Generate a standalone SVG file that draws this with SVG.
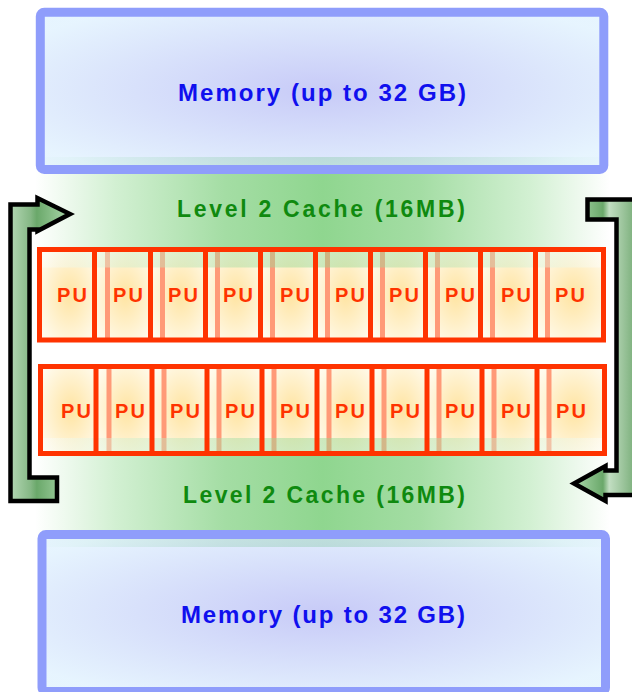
<svg xmlns="http://www.w3.org/2000/svg" width="632" height="692" viewBox="0 0 632 692">
<defs>
<linearGradient id="cacheG" x1="0" y1="0" x2="1" y2="0">
<stop offset="0" stop-color="#ffffff"/>
<stop offset="0.14" stop-color="#d2f0d2"/>
<stop offset="0.33" stop-color="#a4dda4"/>
<stop offset="0.5" stop-color="#8fd68f"/>
<stop offset="0.67" stop-color="#a4dda4"/>
<stop offset="0.86" stop-color="#d2f0d2"/>
<stop offset="1" stop-color="#ffffff"/>
</linearGradient>
<radialGradient id="memG" cx="0.5" cy="0.5" r="0.62">
<stop offset="0" stop-color="#b0b4f4"/>
<stop offset="1" stop-color="#dcf0fe"/>
</radialGradient>
<radialGradient id="cellG" cx="0.55" cy="0.5" r="0.65">
<stop offset="0" stop-color="#ffe4a2"/>
<stop offset="1" stop-color="#fffbee"/>
</radialGradient>
<linearGradient id="armL" gradientUnits="userSpaceOnUse" x1="8" y1="0" x2="72" y2="0">
<stop offset="0" stop-color="#b8dab8"/>
<stop offset="0.35" stop-color="#86b886"/>
<stop offset="0.45" stop-color="#6aa86a"/>
<stop offset="1" stop-color="#b0dcb0"/>
</linearGradient>
<linearGradient id="armR" gradientUnits="userSpaceOnUse" x1="572" y1="0" x2="634" y2="0">
<stop offset="0" stop-color="#b0dcb0"/>
<stop offset="0.5" stop-color="#6aa86a"/>
<stop offset="0.6" stop-color="#c2dec2"/>
<stop offset="1" stop-color="#7db07d"/>
</linearGradient>
</defs>
<style>
.mem{fill:url(#memG);fill-opacity:0.7;stroke:#8f9dfb;stroke-width:9}
.memt{font-family:"Liberation Sans",Arial,sans-serif;font-weight:bold;font-size:24px;fill:#1010ee;text-anchor:middle}
.cat{font-family:"Liberation Sans",Arial,sans-serif;font-weight:bold;font-size:23px;fill:#0f8a0f;text-anchor:middle}
.cell{fill:url(#cellG)}
.sal{stroke:#ff9a78;stroke-width:5}
.div{stroke:#ff3300;stroke-width:5}
.rowb{fill:none;stroke:#ff3300;stroke-width:5}
.pu{font-family:"Liberation Sans",Arial,sans-serif;font-weight:bold;font-size:20px;fill:#ff3300;text-anchor:middle}
.arm{stroke:#000;stroke-width:4.5;stroke-linejoin:miter}
</style>

<g id="cache-top">
<rect x="35" y="157" width="575" height="110" fill="url(#cacheG)"/>
<text class="cat" x="321" y="217" textLength="288" lengthAdjust="spacing">Level 2 Cache (16MB)</text>
</g>
<g id="cache-bottom">
<rect x="35" y="440" width="575" height="107" fill="url(#cacheG)"/>
</g>

<g id="memory-top">
<rect class="mem" x="40.3" y="12.3" width="563.5" height="157.2" rx="4"/>
<text class="memt" x="322" y="101" textLength="288" lengthAdjust="spacing">Memory (up to 32 GB)</text>
</g>
<g id="memory-bottom">
<rect class="mem" x="42" y="534.5" width="563.5" height="157" rx="4"/>
<text class="memt" x="323" y="623" textLength="284" lengthAdjust="spacing">Memory (up to 32 GB)</text>
</g>

<g id="pu-row-1">
<g id="pu-1-1"><rect class="cell" x="39.5" y="249.5" width="55" height="90.5"/><text class="pu" x="72" y="302" textLength="30">PU</text></g>
<g id="pu-1-2"><rect class="cell" x="94.5" y="249.5" width="56" height="90.5"/><line class="sal" x1="107.5" y1="252" x2="107.5" y2="338"/><text class="pu" x="128" y="302" textLength="30">PU</text></g>
<g id="pu-1-3"><rect class="cell" x="150.5" y="249.5" width="55" height="90.5"/><line class="sal" x1="162.5" y1="252" x2="162.5" y2="338"/><text class="pu" x="183" y="302" textLength="30">PU</text></g>
<g id="pu-1-4"><rect class="cell" x="205.5" y="249.5" width="55" height="90.5"/><line class="sal" x1="217.5" y1="252" x2="217.5" y2="338"/><text class="pu" x="238" y="302" textLength="30">PU</text></g>
<g id="pu-1-5"><rect class="cell" x="260.5" y="249.5" width="55" height="90.5"/><line class="sal" x1="272.5" y1="252" x2="272.5" y2="338"/><text class="pu" x="295" y="302" textLength="30">PU</text></g>
<g id="pu-1-6"><rect class="cell" x="315.5" y="249.5" width="55" height="90.5"/><line class="sal" x1="327.5" y1="252" x2="327.5" y2="338"/><text class="pu" x="350" y="302" textLength="30">PU</text></g>
<g id="pu-1-7"><rect class="cell" x="370.5" y="249.5" width="55" height="90.5"/><line class="sal" x1="382.5" y1="252" x2="382.5" y2="338"/><text class="pu" x="404" y="302" textLength="30">PU</text></g>
<g id="pu-1-8"><rect class="cell" x="425.5" y="249.5" width="55" height="90.5"/><line class="sal" x1="437.5" y1="252" x2="437.5" y2="338"/><text class="pu" x="460" y="302" textLength="30">PU</text></g>
<g id="pu-1-9"><rect class="cell" x="480.5" y="249.5" width="55" height="90.5"/><line class="sal" x1="492.5" y1="252" x2="492.5" y2="338"/><text class="pu" x="516" y="302" textLength="30">PU</text></g>
<g id="pu-1-10"><rect class="cell" x="535.5" y="249.5" width="68" height="90.5"/><line class="sal" x1="547.5" y1="252" x2="547.5" y2="338"/><text class="pu" x="570" y="302" textLength="30">PU</text></g>
<rect x="39.5" y="249.5" width="564" height="18" fill="url(#cacheG)" opacity="0.45"/>
<g class="div">
<line x1="94.5" y1="249.5" x2="94.5" y2="340"/><line x1="150.5" y1="249.5" x2="150.5" y2="340"/><line x1="205.5" y1="249.5" x2="205.5" y2="340"/><line x1="260.5" y1="249.5" x2="260.5" y2="340"/><line x1="315.5" y1="249.5" x2="315.5" y2="340"/><line x1="370.5" y1="249.5" x2="370.5" y2="340"/><line x1="425.5" y1="249.5" x2="425.5" y2="340"/><line x1="480.5" y1="249.5" x2="480.5" y2="340"/><line x1="535.5" y1="249.5" x2="535.5" y2="340"/>
</g>
<rect class="rowb" x="39.5" y="249.5" width="564" height="90.5"/>
</g>

<g id="pu-row-2">
<g id="pu-2-1"><rect class="cell" x="40.5" y="366.5" width="55.5" height="87"/><text class="pu" x="76" y="418" textLength="30">PU</text></g>
<g id="pu-2-2"><rect class="cell" x="96" y="366.5" width="56" height="87"/><line class="sal" x1="109" y1="369" x2="109" y2="451"/><text class="pu" x="130" y="418" textLength="30">PU</text></g>
<g id="pu-2-3"><rect class="cell" x="152" y="366.5" width="55" height="87"/><line class="sal" x1="164" y1="369" x2="164" y2="451"/><text class="pu" x="185" y="418" textLength="30">PU</text></g>
<g id="pu-2-4"><rect class="cell" x="207" y="366.5" width="55" height="87"/><line class="sal" x1="219" y1="369" x2="219" y2="451"/><text class="pu" x="240" y="418" textLength="30">PU</text></g>
<g id="pu-2-5"><rect class="cell" x="262" y="366.5" width="55" height="87"/><line class="sal" x1="274" y1="369" x2="274" y2="451"/><text class="pu" x="295" y="418" textLength="30">PU</text></g>
<g id="pu-2-6"><rect class="cell" x="317" y="366.5" width="55" height="87"/><line class="sal" x1="329" y1="369" x2="329" y2="451"/><text class="pu" x="350" y="418" textLength="30">PU</text></g>
<g id="pu-2-7"><rect class="cell" x="372" y="366.5" width="55" height="87"/><line class="sal" x1="384" y1="369" x2="384" y2="451"/><text class="pu" x="405" y="418" textLength="30">PU</text></g>
<g id="pu-2-8"><rect class="cell" x="427" y="366.5" width="55" height="87"/><line class="sal" x1="439" y1="369" x2="439" y2="451"/><text class="pu" x="460" y="418" textLength="30">PU</text></g>
<g id="pu-2-9"><rect class="cell" x="482" y="366.5" width="55" height="87"/><line class="sal" x1="494" y1="369" x2="494" y2="451"/><text class="pu" x="516" y="418" textLength="30">PU</text></g>
<g id="pu-2-10"><rect class="cell" x="537" y="366.5" width="67.5" height="87"/><line class="sal" x1="549" y1="369" x2="549" y2="451"/><text class="pu" x="571" y="418" textLength="30">PU</text></g>
<rect x="40.5" y="438" width="564" height="15.5" fill="url(#cacheG)" opacity="0.45"/>
<g class="div">
<line x1="96" y1="366.5" x2="96" y2="453.5"/><line x1="152" y1="366.5" x2="152" y2="453.5"/><line x1="207" y1="366.5" x2="207" y2="453.5"/><line x1="262" y1="366.5" x2="262" y2="453.5"/><line x1="317" y1="366.5" x2="317" y2="453.5"/><line x1="372" y1="366.5" x2="372" y2="453.5"/><line x1="427" y1="366.5" x2="427" y2="453.5"/><line x1="482" y1="366.5" x2="482" y2="453.5"/><line x1="537" y1="366.5" x2="537" y2="453.5"/>
</g>
<rect class="rowb" x="40.5" y="366.5" width="564" height="87"/>
</g>

<g id="cache-bottom-label">
<text class="cat" x="324" y="503" textLength="282" lengthAdjust="spacing">Level 2 Cache (16MB)</text>
</g>

<g id="connectors">
<polygon class="arm" fill="url(#armL)" points="10.5,204.5 37.5,204.5 37.5,198 70,214 37.5,231 37.5,229.5 29.5,229.5 29.5,477.5 57,477.5 57,501 10.5,501"/>
<polygon class="arm" fill="url(#armR)" points="587.5,199.5 636,199.5 636,495 605.5,495 605.5,501 574,483.5 605.5,466 605.5,470.5 616.5,470.5 616.5,219.5 587.5,219.5"/>
</g>
</svg>
